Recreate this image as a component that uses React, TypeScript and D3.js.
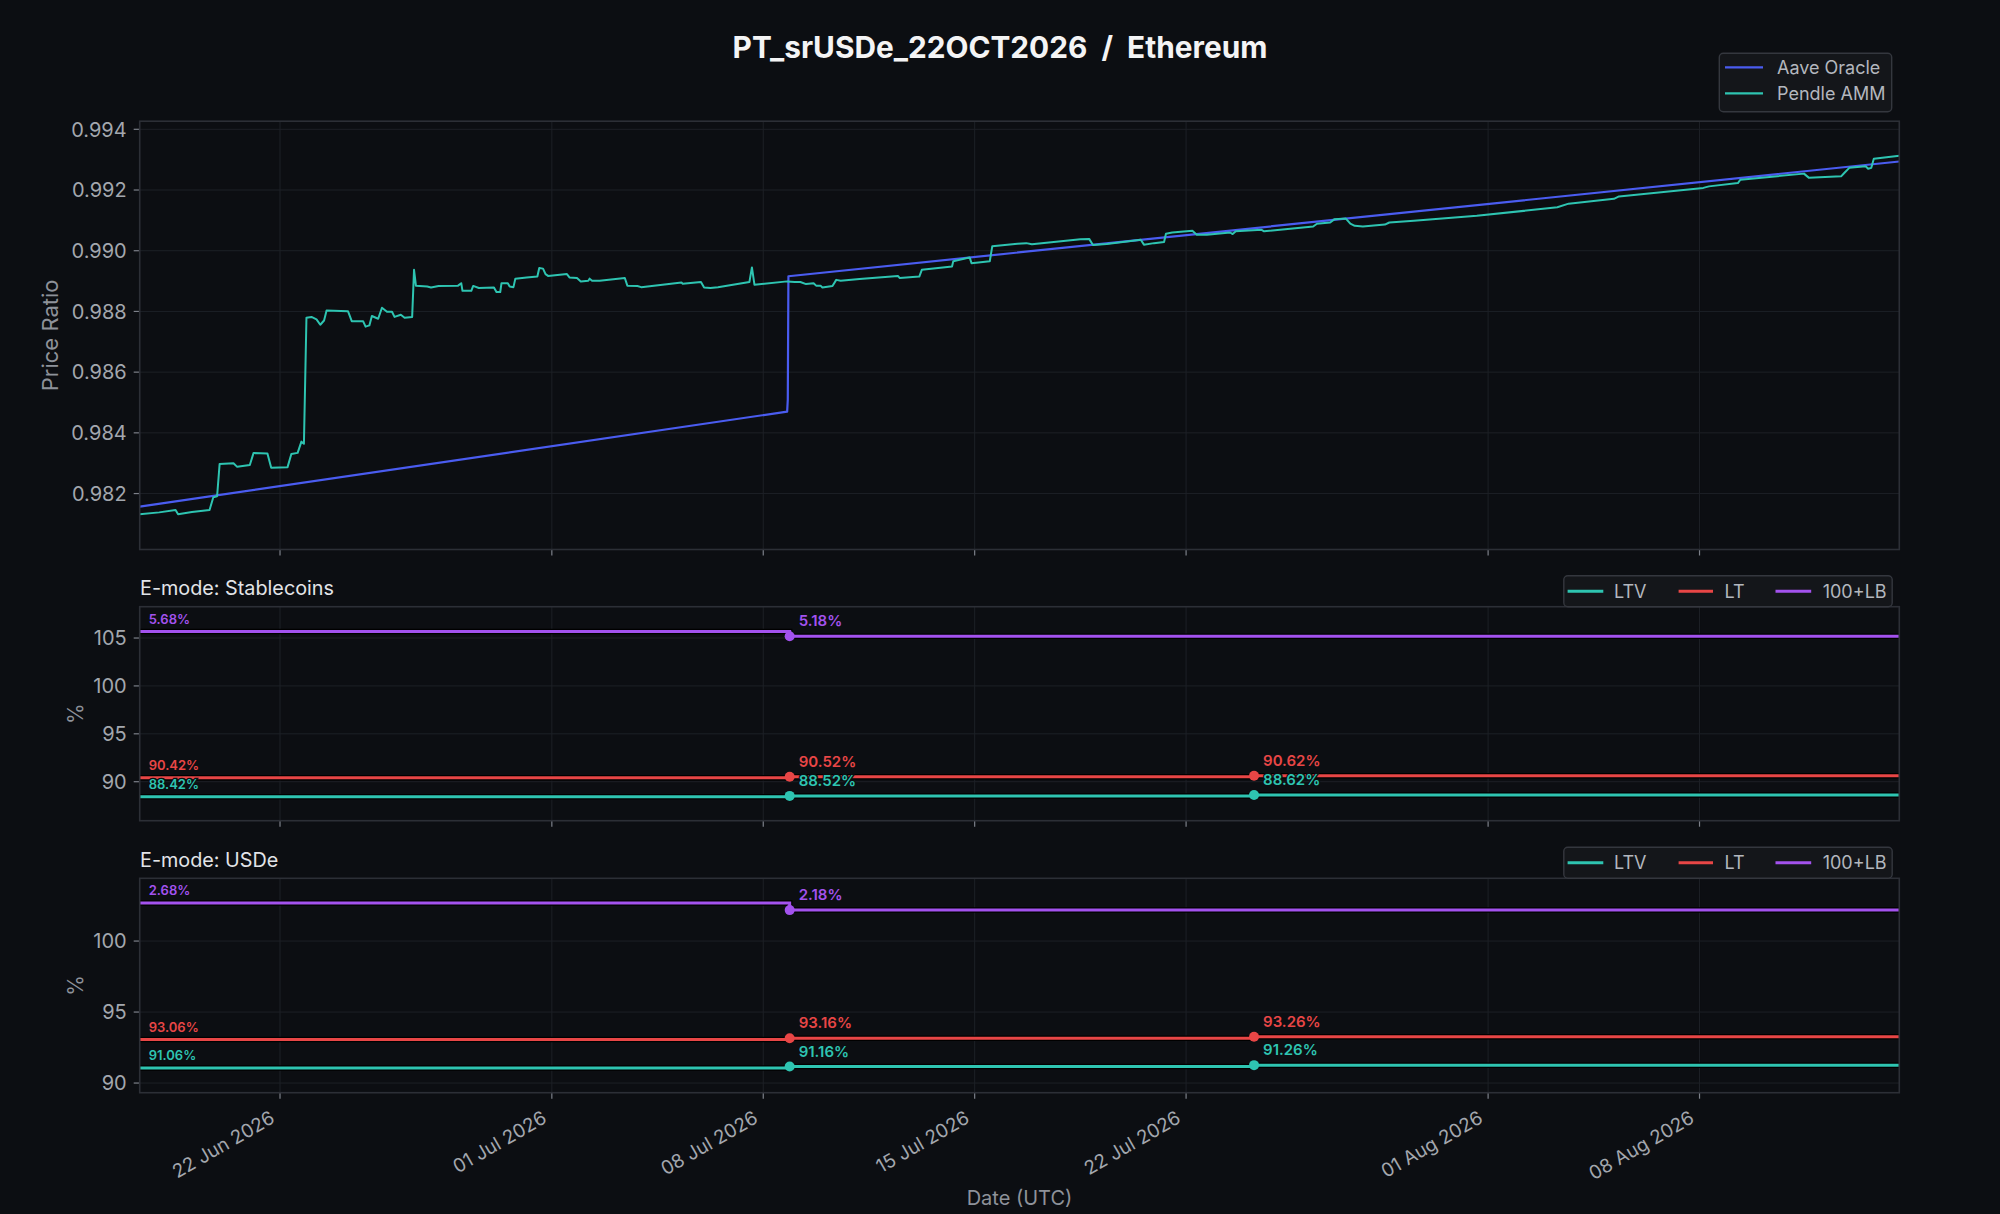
import React from 'react';
import * as d3 from 'd3';

// ---------------- DATA ----------------
const TITLE = 'PT_srUSDe_22OCT2026  /  Ethereum';
const X_TICKS = ['2026-06-22', '2026-07-01', '2026-07-08', '2026-07-15', '2026-07-22', '2026-08-01', '2026-08-08'];
const PRICE_TICKS = [0.982, 0.984, 0.986, 0.988, 0.99, 0.992, 0.994];
const STABLE_TICKS = [90, 95, 100, 105];
const USDE_TICKS = [90, 95, 100];

const AAVE_ORACLE: [string, number][] = [
  ['2026-06-17T08:30', 0.98157],
  ['2026-07-08T19:00', 0.9847],
  ['2026-07-08T19:30', 0.9851],
  ['2026-07-08T20:00', 0.98916],
  ['2026-08-14T14:45', 0.99294],
];

const PENDLE_AMM: [string, number][] = [
  ['2026-06-17T08:30', 0.98132], ['2026-06-18T00:00', 0.98138], ['2026-06-18T13:00', 0.98146],
  ['2026-06-18T15:00', 0.98132], ['2026-06-19T02:00', 0.98139], ['2026-06-19T16:00', 0.98146],
  ['2026-06-19T19:00', 0.98188], ['2026-06-19T22:00', 0.98191], ['2026-06-20T00:00', 0.98297],
  ['2026-06-20T11:00', 0.983], ['2026-06-20T14:00', 0.98288], ['2026-06-21T00:00', 0.98294],
  ['2026-06-21T03:00', 0.98334], ['2026-06-21T14:00', 0.98332], ['2026-06-21T17:00', 0.98285],
  ['2026-06-22T06:00', 0.98287], ['2026-06-22T09:00', 0.9833], ['2026-06-22T14:00', 0.98334],
  ['2026-06-22T17:00', 0.98371], ['2026-06-22T19:00', 0.98364], ['2026-06-22T21:00', 0.98779],
  ['2026-06-23T01:00', 0.98782], ['2026-06-23T05:00', 0.98774], ['2026-06-23T08:00', 0.98756],
  ['2026-06-23T11:00', 0.9877], ['2026-06-23T13:00', 0.98803], ['2026-06-24T06:00', 0.98801],
  ['2026-06-24T09:00', 0.98768], ['2026-06-24T18:00', 0.98768], ['2026-06-24T20:00', 0.9875],
  ['2026-06-24T23:00', 0.98754], ['2026-06-25T01:00', 0.98785], ['2026-06-25T06:00', 0.98776],
  ['2026-06-25T09:00', 0.98812], ['2026-06-25T13:00', 0.98799], ['2026-06-25T17:00', 0.98799],
  ['2026-06-25T19:00', 0.98782], ['2026-06-26T00:00', 0.98789], ['2026-06-26T03:00', 0.98779],
  ['2026-06-26T09:00', 0.98782], ['2026-06-26T10:30', 0.98937], ['2026-06-26T12:00', 0.98885],
  ['2026-06-26T21:00', 0.98882], ['2026-06-27T00:00', 0.98879], ['2026-06-27T06:00', 0.98884],
  ['2026-06-27T21:30', 0.98885], ['2026-06-28T00:00', 0.98893], ['2026-06-28T01:00', 0.98868],
  ['2026-06-28T08:00', 0.98868], ['2026-06-28T09:30', 0.98884], ['2026-06-28T14:00', 0.98877],
  ['2026-06-29T02:00', 0.98879], ['2026-06-29T04:00', 0.98864], ['2026-06-29T07:00', 0.98864],
  ['2026-06-29T08:00', 0.98893], ['2026-06-29T13:00', 0.98893], ['2026-06-29T14:30', 0.98882],
  ['2026-06-29T17:30', 0.9888], ['2026-06-29T19:00', 0.98908], ['2026-06-30T04:00', 0.98912],
  ['2026-06-30T12:30', 0.98915], ['2026-06-30T14:00', 0.98943], ['2026-06-30T17:00', 0.98941],
  ['2026-06-30T19:00', 0.98923], ['2026-06-30T21:00', 0.98917], ['2026-07-01T12:00', 0.98923],
  ['2026-07-01T14:00', 0.98912], ['2026-07-01T20:00', 0.9891], ['2026-07-01T23:00', 0.98899],
  ['2026-07-02T05:00', 0.98901], ['2026-07-02T06:00', 0.98908], ['2026-07-02T08:00', 0.98901],
  ['2026-07-02T14:00', 0.98901], ['2026-07-03T10:00', 0.9891], ['2026-07-03T12:00', 0.98885],
  ['2026-07-03T20:00', 0.98884], ['2026-07-03T23:00', 0.9888], ['2026-07-04T21:00', 0.9889],
  ['2026-07-05T07:00', 0.98895], ['2026-07-05T08:00', 0.98891], ['2026-07-05T22:30', 0.98897],
  ['2026-07-06T01:00', 0.98879], ['2026-07-06T06:00', 0.98877], ['2026-07-06T12:00', 0.9888],
  ['2026-07-07T13:00', 0.98897], ['2026-07-07T15:00', 0.98945], ['2026-07-07T17:00', 0.98888],
  ['2026-07-08T19:00', 0.98899], ['2026-07-09T01:00', 0.98897], ['2026-07-09T05:30', 0.98897],
  ['2026-07-09T10:00', 0.9889], ['2026-07-09T16:00', 0.98893], ['2026-07-09T18:00', 0.98885],
  ['2026-07-09T21:30', 0.98885], ['2026-07-09T23:00', 0.98879], ['2026-07-10T07:00', 0.98884],
  ['2026-07-10T10:00', 0.98904], ['2026-07-10T13:30', 0.98901], ['2026-07-11T04:30', 0.98907],
  ['2026-07-12T11:00', 0.98917], ['2026-07-12T12:30', 0.9891], ['2026-07-13T04:00', 0.98915],
  ['2026-07-13T06:00', 0.98937], ['2026-07-14T06:00', 0.98948], ['2026-07-14T07:00', 0.98965],
  ['2026-07-14T18:00', 0.98976], ['2026-07-14T20:00', 0.98978], ['2026-07-14T21:30', 0.98959],
  ['2026-07-15T12:00', 0.98965], ['2026-07-15T14:00', 0.99015], ['2026-07-16T10:00', 0.99023],
  ['2026-07-16T17:00', 0.99025], ['2026-07-16T21:30', 0.99021], ['2026-07-18T12:00', 0.99038],
  ['2026-07-18T19:00', 0.99039], ['2026-07-18T22:00', 0.99019], ['2026-07-19T09:00', 0.99022],
  ['2026-07-20T12:00', 0.99036], ['2026-07-20T14:30', 0.9902], ['2026-07-20T22:30', 0.99025],
  ['2026-07-21T06:30', 0.99029], ['2026-07-21T08:00', 0.99056], ['2026-07-21T13:00', 0.9906],
  ['2026-07-22T05:00', 0.99066], ['2026-07-22T08:30', 0.99053], ['2026-07-22T16:30', 0.99053],
  ['2026-07-23T11:00', 0.9906], ['2026-07-23T13:00', 0.99055], ['2026-07-23T15:30', 0.99064],
  ['2026-07-24T12:00', 0.99069], ['2026-07-24T14:00', 0.99064], ['2026-07-26T05:00', 0.9908],
  ['2026-07-26T08:00', 0.99089], ['2026-07-26T18:30', 0.99093], ['2026-07-26T22:00', 0.99104],
  ['2026-07-27T07:00', 0.99106], ['2026-07-27T10:30', 0.99089], ['2026-07-27T14:00', 0.99082],
  ['2026-07-27T20:30', 0.9908], ['2026-07-28T14:00', 0.99086], ['2026-07-28T17:30', 0.99093],
  ['2026-07-29T13:00', 0.99099], ['2026-07-31T15:00', 0.99115], ['2026-08-03T07:00', 0.99143],
  ['2026-08-03T16:00', 0.99155], ['2026-08-05T04:00', 0.99171], ['2026-08-05T08:00', 0.99179],
  ['2026-08-08T03:00', 0.99207], ['2026-08-08T07:30', 0.99212], ['2026-08-09T06:30', 0.99223],
  ['2026-08-09T08:30', 0.99234], ['2026-08-11T11:00', 0.99254], ['2026-08-11T15:00', 0.9924],
  ['2026-08-12T16:30', 0.99245], ['2026-08-12T19:00', 0.99256], ['2026-08-12T23:00', 0.99273],
  ['2026-08-13T12:00', 0.99278], ['2026-08-13T14:00', 0.9927], ['2026-08-13T16:30', 0.99273],
  ['2026-08-13T18:30', 0.99303], ['2026-08-14T14:45', 0.99313],
];

const STABLE_LTV: [string, number][] = [['2026-06-17T08:30', 88.42], ['2026-07-08T21:00', 88.52], ['2026-07-24T06:00', 88.62]];
const STABLE_LT: [string, number][] = [['2026-06-17T08:30', 90.42], ['2026-07-08T21:00', 90.52], ['2026-07-24T06:00', 90.62]];
const STABLE_LB: [string, number][] = [['2026-06-17T08:30', 105.68], ['2026-07-08T21:00', 105.18]];
const USDE_LTV: [string, number][] = [['2026-06-17T08:30', 91.06], ['2026-07-08T21:00', 91.16], ['2026-07-24T06:00', 91.26]];
const USDE_LT: [string, number][] = [['2026-06-17T08:30', 93.06], ['2026-07-08T21:00', 93.16], ['2026-07-24T06:00', 93.26]];
const USDE_LB: [string, number][] = [['2026-06-17T08:30', 102.68], ['2026-07-08T21:00', 102.18]];

// ---------------- STYLE ----------------
const W = 2000;
const H = 1214;
const FONT = "Inter, 'DejaVu Sans', sans-serif";
const BG = '#0c0e12';
const GRID = '#1d2026';
const SPINE = '#2c2f36';
const TICK_TXT = '#a3a7ae';
const LABEL_TXT = '#8e929a';
const C_BLUE = '#4a5cf0';
const C_TEAL = '#2ec4b1';
const C_RED = '#e84646';
const C_PURPLE = '#a352ee';

const L = 139.7;
const R = 1899.3;

const parse = d3.utcParse('%Y-%m-%dT%H:%M');
const parseDay = d3.utcParse('%Y-%m-%d');

const toPts = (arr: [string, number][]) => arr.map(([t, v]) => ({ t: parse(t) as Date, v }));

const pendle = toPts(PENDLE_AMM);
const aave = toPts(AAVE_ORACLE);
const xDomain = d3.extent(pendle, (d) => d.t) as [Date, Date];
const x = d3.scaleUtc().domain(xDomain).range([L, R]);
const xTicks = X_TICKS.map((s) => parseDay(s) as Date);
const fmtTick = d3.utcFormat('%d %b %Y');

type Panel = { y0: number; y1: number; domain: [number, number]; ticks: number[] };
const PTOP: Panel = { y0: 121.2, y1: 549.5, domain: [0.980157, 0.994267], ticks: PRICE_TICKS };
const PMID: Panel = { y0: 606.7, y1: 820.7, domain: [85.93, 108.27], ticks: STABLE_TICKS };
const PBOT: Panel = { y0: 878.3, y1: 1092.7, domain: [89.32, 104.42], ticks: USDE_TICKS };

const yScale = (p: Panel) => d3.scaleLinear().domain(p.domain).range([p.y1, p.y0]);

function Frame({ p, id, fmt }: { p: Panel; id: string; fmt: (v: number) => string }) {
  const y = yScale(p);
  return (
    <g>
      <defs>
        <clipPath id={id}>
          <rect x={L} y={p.y0} width={R - L} height={p.y1 - p.y0} />
        </clipPath>
      </defs>
      {xTicks.map((t, i) => (
        <line key={'gx' + i} x1={x(t)} x2={x(t)} y1={p.y0} y2={p.y1} stroke={GRID} strokeWidth={1} />
      ))}
      {p.ticks.map((v, i) => (
        <line key={'gy' + i} x1={L} x2={R} y1={y(v)} y2={y(v)} stroke={GRID} strokeWidth={1} />
      ))}
      {p.ticks.map((v, i) => (
        <g key={'ty' + i}>
          <line x1={L - 6} x2={L} y1={y(v)} y2={y(v)} stroke="#7d818a" strokeWidth={1.2} />
          <text x={L - 13} y={y(v) + 7.2} textAnchor="end" fontSize={20} fill={TICK_TXT} fontFamily={FONT}>
            {fmt(v)}
          </text>
        </g>
      ))}
      {xTicks.map((t, i) => (
        <line key={'tx' + i} x1={x(t)} x2={x(t)} y1={p.y1} y2={p.y1 + 6} stroke="#7d818a" strokeWidth={1.2} />
      ))}
    </g>
  );
}

function Spines({ p }: { p: Panel }) {
  return <rect x={L} y={p.y0} width={R - L} height={p.y1 - p.y0} fill="none" stroke={SPINE} strokeWidth={1.6} />;
}

const stepLine = (p: Panel) => {
  const y = yScale(p);
  return d3
    .line<{ t: Date; v: number }>()
    .x((d) => x(d.t))
    .y((d) => y(d.v))
    .curve(d3.curveStepAfter);
};

function EmodeLine({ p, data, color, clip }: { p: Panel; data: [string, number][]; color: string; clip: string }) {
  const pts = toPts(data);
  const ext = [...pts, { t: xDomain[1], v: pts[pts.length - 1].v }];
  const d = stepLine(p)(ext) || '';
  return (
    <g clipPath={`url(#${clip})`}>
      <path d={d} fill="none" stroke="#000" strokeWidth={5.5} />
      <path d={d} fill="none" stroke={color} strokeWidth={3} />
    </g>
  );
}

function EmodeMarks({ p, data, color, lb }: { p: Panel; data: [string, number][]; color: string; lb?: boolean }) {
  const y = yScale(p);
  const pts = toPts(data);
  const lab = (v: number) => (lb ? v - 100 : v).toFixed(2) + '%';
  return (
    <g>
      {pts.map((d, i) =>
        i === 0 ? (
          <text key={i} x={x(d.t) + 9} y={y(d.v) - 8} fontSize={13} fontWeight={600} fill={color} fontFamily={FONT}
            stroke={BG} strokeWidth={2.5} paintOrder="stroke">
            {lab(d.v)}
          </text>
        ) : (
          <g key={i}>
            <circle cx={x(d.t)} cy={y(d.v)} r={5} fill={color} />
            <text x={x(d.t) + 9} y={y(d.v) - 10} fontSize={15} fontWeight={600} fill={color} fontFamily={FONT}
              stroke={BG} strokeWidth={2.5} paintOrder="stroke">
              {lab(d.v)}
            </text>
          </g>
        )
      )}
    </g>
  );
}

function EmodeLegend({ top }: { top: number }) {
  const bx = 1563.8;
  const items = [
    { label: 'LTV', color: C_TEAL, l0: 3.8, l1: 39.5, tx: 50.2 },
    { label: 'LT', color: C_RED, l0: 114.8, l1: 149.2, tx: 160.7 },
    { label: '100+LB', color: C_PURPLE, l0: 211.7, l1: 247.4, tx: 258.9 },
  ];
  const cy = top + 15.5;
  return (
    <g>
      <rect x={bx} y={top} width={328.4} height={31} rx={4} fill="#14161a" stroke="#34373e" strokeWidth={1.4} />
      {items.map((it) => (
        <g key={it.label}>
          <line x1={bx + it.l0} x2={bx + it.l1} y1={cy} y2={cy} stroke={it.color} strokeWidth={3} />
          <text x={bx + it.tx} y={cy + 6.5} fontSize={18} fill="#b3b7be" fontFamily={FONT}>
            {it.label}
          </text>
        </g>
      ))}
    </g>
  );
}

function EmodePanel({ p, id, title, ltv, lt, lbd }: { p: Panel; id: string; title: string; ltv: [string, number][]; lt: [string, number][]; lbd: [string, number][] }) {
  return (
    <g>
      <text x={140} y={p.y0 - 11.7} fontSize={19.8} fill="#e2e4e8" fontFamily={FONT}>{title}</text>
      <Frame p={p} id={id} fmt={d3.format('d')} />
      <EmodeLine p={p} data={ltv} color={C_TEAL} clip={id} />
      <EmodeLine p={p} data={lt} color={C_RED} clip={id} />
      <EmodeLine p={p} data={lbd} color={C_PURPLE} clip={id} />
      <EmodeMarks p={p} data={ltv} color={C_TEAL} />
      <EmodeMarks p={p} data={lt} color={C_RED} />
      <EmodeMarks p={p} data={lbd} color={C_PURPLE} lb />
      <Spines p={p} />
      <EmodeLegend top={p.y0 - 31} />
      <text transform={`translate(83,${(p.y0 + p.y1) / 2}) rotate(-90)`} textAnchor="middle" fontSize={21} fill={LABEL_TXT} fontFamily={FONT}>%</text>
    </g>
  );
}

export default function App() {
  const yTop = yScale(PTOP);
  const priceLine = d3
    .line<{ t: Date; v: number }>()
    .x((d) => x(d.t))
    .y((d) => yTop(d.v));

  return (
    <svg
      width={W}
      height={H}
      viewBox={`0 0 ${W} ${H}`}
      style={{ position: 'absolute', left: 0, top: 0, display: 'block', background: BG }}
    >
      <rect x={0} y={0} width={W} height={H} fill={BG} />
      <text x={1000} y={58} textAnchor="middle" fontSize={29.8} fontWeight={700} fill="#f4f4f5" fontFamily={FONT} style={{ whiteSpace: 'pre' }}>
        {TITLE}
      </text>

      {/* Top panel */}
      <Frame p={PTOP} id="clipTop" fmt={d3.format('.3f')} />
      <g clipPath="url(#clipTop)">
        <path d={priceLine(aave) || ''} fill="none" stroke={C_BLUE} strokeWidth={2.2} strokeLinejoin="round" />
        <path d={priceLine(pendle) || ''} fill="none" stroke={C_TEAL} strokeWidth={2} strokeLinejoin="round" />
      </g>
      <Spines p={PTOP} />
      <text transform={`translate(58,${(PTOP.y0 + PTOP.y1) / 2}) rotate(-90)`} textAnchor="middle" fontSize={22} fill={LABEL_TXT} fontFamily={FONT}>
        Price Ratio
      </text>
      <g>
        <rect x={1719.3} y={53.3} width={172.4} height={58.4} rx={4} fill="#14161a" stroke="#34373e" strokeWidth={1.4} />
        <line x1={1725} x2={1763} y1={67.3} y2={67.3} stroke={C_BLUE} strokeWidth={2.2} />
        <text x={1777} y={73.8} fontSize={18} fill="#b3b7be" fontFamily={FONT}>Aave Oracle</text>
        <line x1={1725} x2={1763} y1={93.3} y2={93.3} stroke={C_TEAL} strokeWidth={2.2} />
        <text x={1777} y={99.8} fontSize={18} fill="#b3b7be" fontFamily={FONT}>Pendle AMM</text>
      </g>

      <EmodePanel p={PMID} id="clipMid" title="E-mode: Stablecoins" ltv={STABLE_LTV} lt={STABLE_LT} lbd={STABLE_LB} />
      <EmodePanel p={PBOT} id="clipBot" title="E-mode: USDe" ltv={USDE_LTV} lt={USDE_LT} lbd={USDE_LB} />

      {/* X tick labels */}
      {xTicks.map((t, i) => (
        <text
          key={'xl' + i}
          transform={`translate(${x(t) - 4},${PBOT.y1 + 29}) rotate(-30)`}
          textAnchor="end"
          fontSize={19}
          fill={TICK_TXT}
          fontFamily={FONT}
        >
          {fmtTick(t)}
        </text>
      ))}
      <text x={(L + R) / 2} y={1205} textAnchor="middle" fontSize={20} fill={LABEL_TXT} fontFamily={FONT}>
        Date (UTC)
      </text>
    </svg>
  );
}
